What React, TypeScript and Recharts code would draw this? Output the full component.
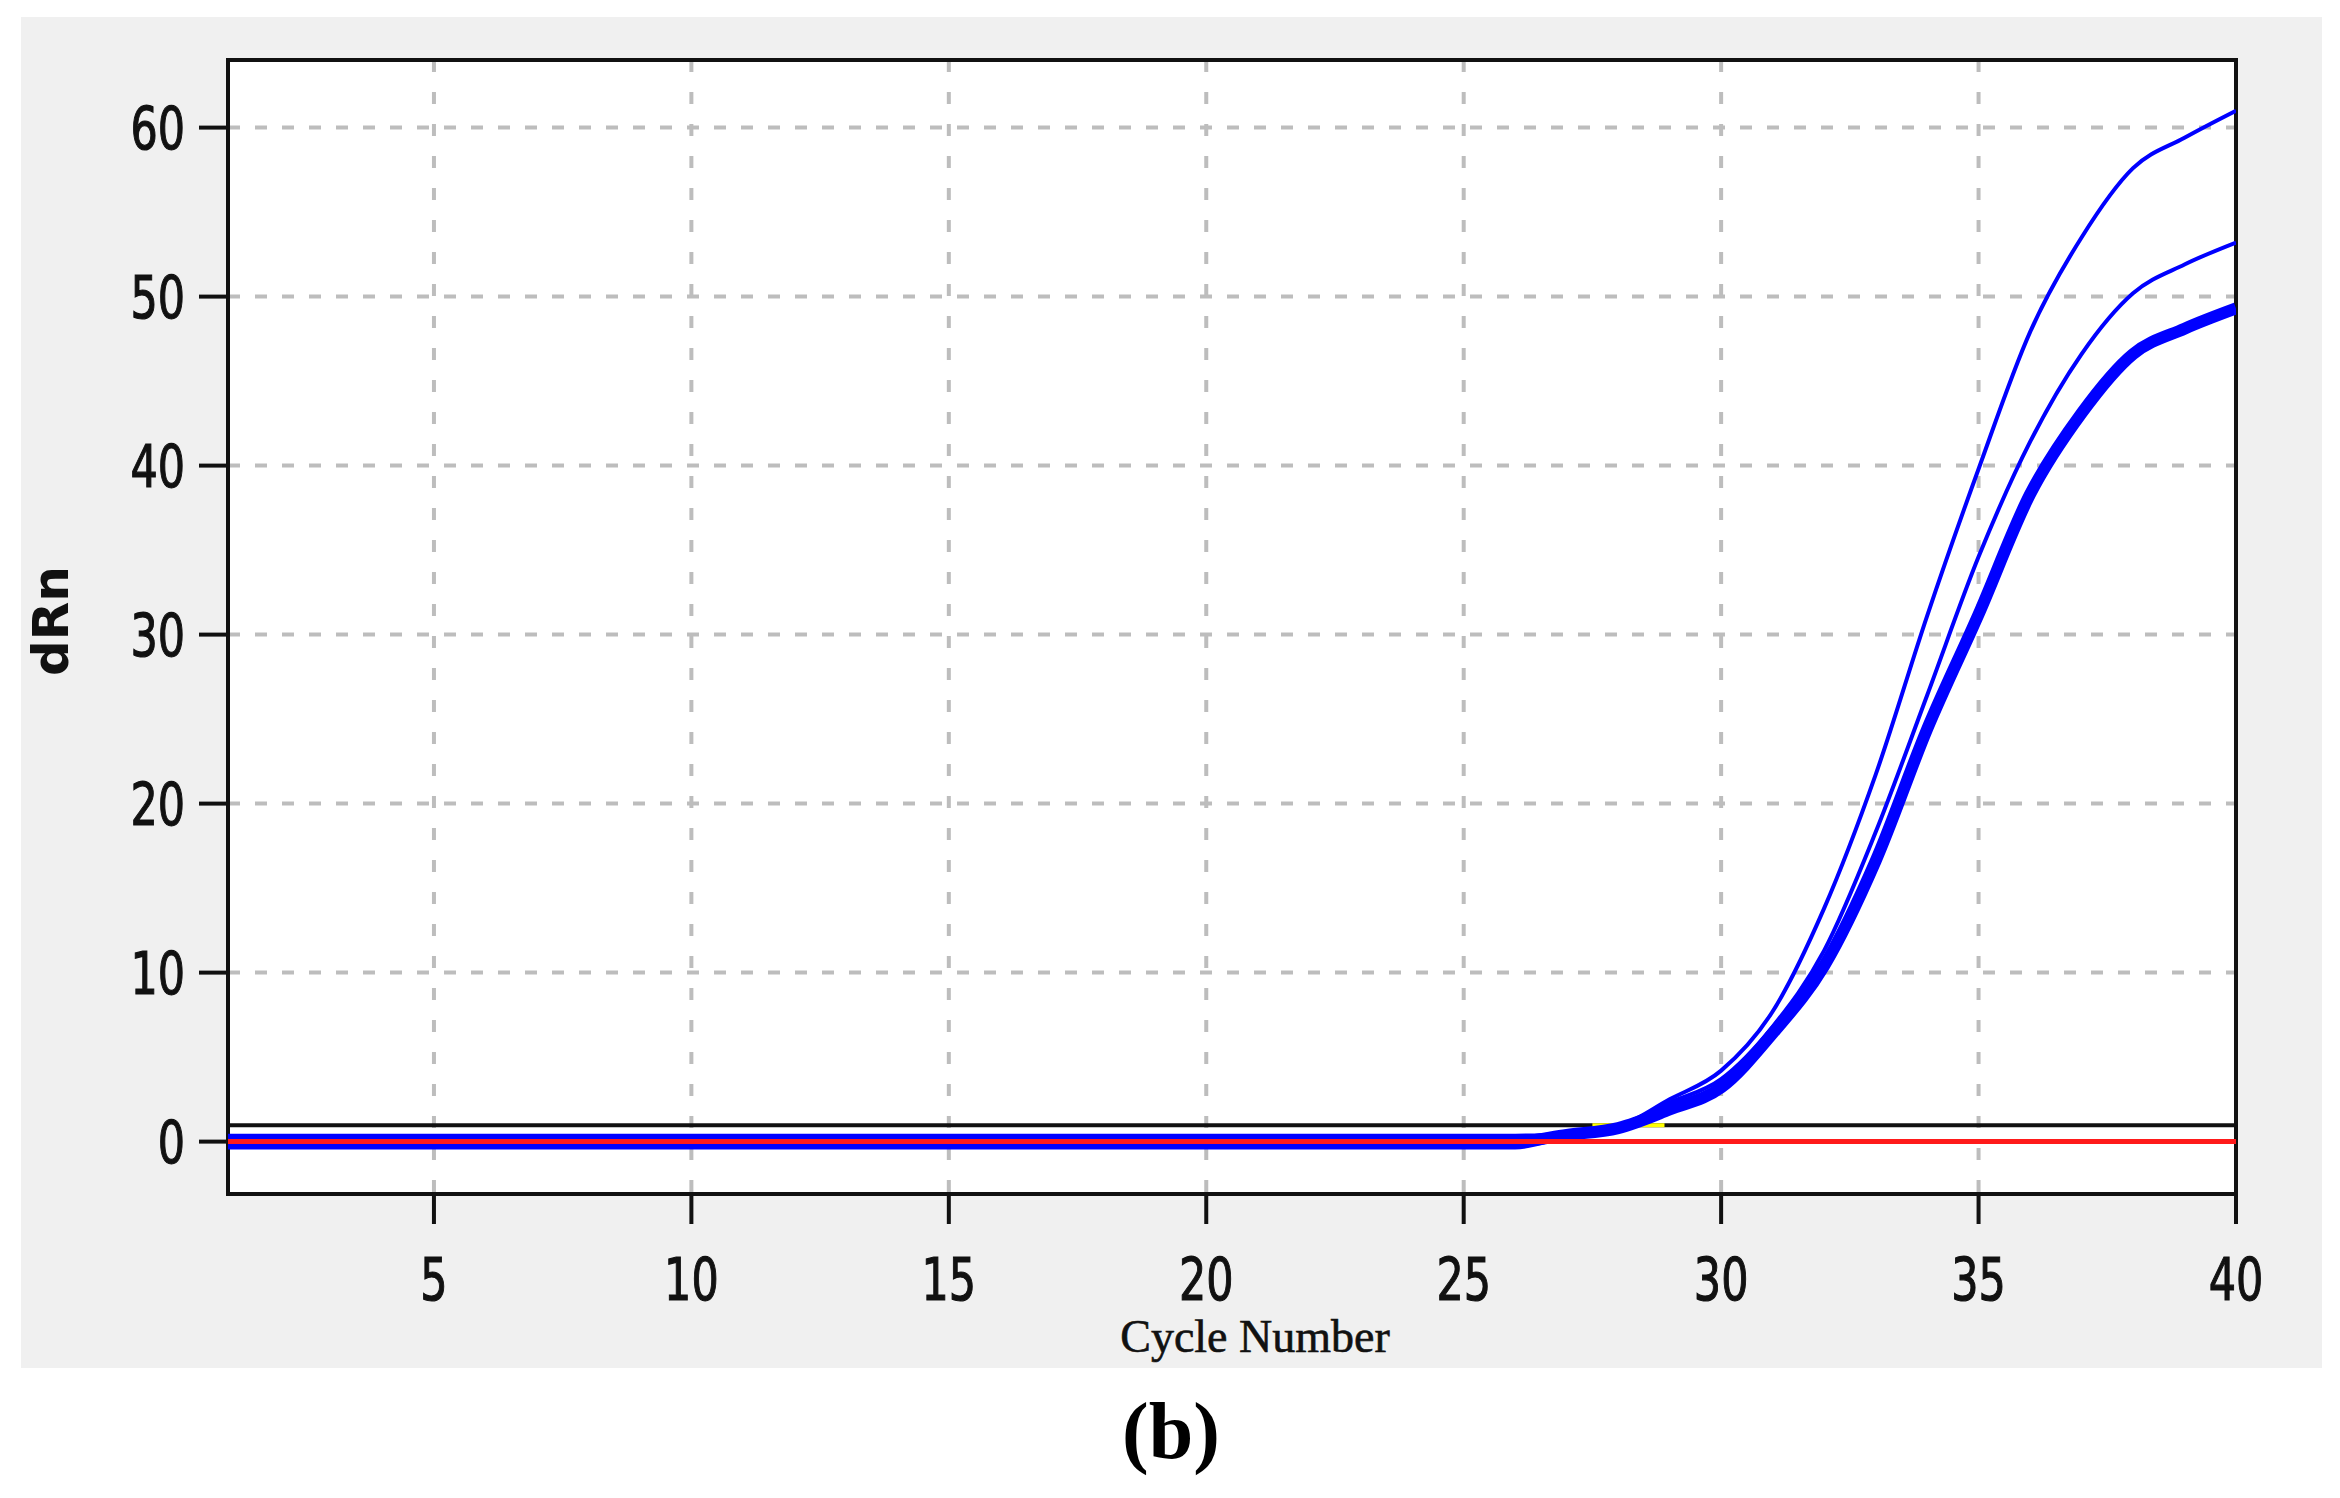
import React from "react";
import {
  LineChart,
  Line,
  XAxis,
  YAxis,
  CartesianGrid,
  ReferenceArea,
} from "recharts";

// cycle numbers and dRn readings for the three wells
const cycles = [
  1, 2, 3, 4, 5, 6, 7, 8, 9, 10, 11, 12, 13, 14, 15, 16, 17, 18, 19, 20,
  21, 22, 23, 24, 25, 26, 27, 28, 29, 30, 31, 32, 33, 34, 35, 36, 37, 38, 39, 40,
];
const wellA = [
  0.35, 0.35, 0.35, 0.35, 0.35, 0.35, 0.35, 0.35, 0.35, 0.35, 0.35, 0.35, 0.35,
  0.35, 0.35, 0.35, 0.35, 0.35, 0.35, 0.35, 0.35, 0.35, 0.35, 0.35, 0.35, 0.35,
  0.5, 0.9, 2.5, 4.2, 7.7, 13.8, 21.7, 31.1, 39.8, 47.9, 53.5, 57.6, 59.4, 61.0,
];
const wellB = [
  -0.35, -0.35, -0.35, -0.35, -0.35, -0.35, -0.35, -0.35, -0.35, -0.35, -0.35,
  -0.35, -0.35, -0.35, -0.35, -0.35, -0.35, -0.35, -0.35, -0.35, -0.35, -0.35,
  -0.35, -0.35, -0.35, -0.35, 0.3, 0.9, 2.3, 3.7, 6.8, 11.3, 18.3, 26.4, 34.6,
  41.4, 46.6, 50.2, 51.9, 53.2,
];
const wellC = [
  0, 0, 0, 0, 0, 0, 0, 0, 0, 0, 0, 0, 0, 0, 0, 0, 0, 0, 0, 0, 0, 0, 0, 0, 0, 0,
  0.4, 0.8, 1.9, 3.2, 6.4, 10.4, 16.6, 24.4, 31.2, 38.3, 43.1, 46.6, 48.1, 49.3,
];

const xTicks = [5, 10, 15, 20, 25, 30, 35, 40];
const yTicks = [0, 10, 20, 30, 40, 50, 60];

const lineEnds = [1, 40];
const thresholdLevel = 0.97;
const baselineLevel = 0;
const crossingCycles = [27.5, 28.9];

const toPoints = (xs: number[], ys: number[]) =>
  xs.map((c, i) => ({ cycle: c, dRn: ys[i] }));

const wellAData = toPoints(cycles, wellA);
const wellBData = toPoints(cycles, wellB);
const wellCData = toPoints(cycles, wellC);
const thresholdData = toPoints(lineEnds, lineEnds.map(() => thresholdLevel));
const baselineData = toPoints(lineEnds, lineEnds.map(() => baselineLevel));
const crossingData = toPoints(
  crossingCycles,
  crossingCycles.map(() => thresholdLevel)
);

const tickFont = "'DejaVu Sans', Verdana, sans-serif";

function YTick({ x, y, payload }: any) {
  return (
    <text
      transform={`translate(${x},${y + 21}) scale(0.74,1)`}
      textAnchor="end"
      fontFamily={tickFont}
      fontSize={58}
      fill="#111"
      stroke="#111"
      strokeWidth={1.2}
    >
      {payload.value}
    </text>
  );
}

function XTick({ x, y, payload }: any) {
  return (
    <text
      transform={`translate(${x},${y + 76}) scale(0.74,1)`}
      textAnchor="middle"
      fontFamily={tickFont}
      fontSize={58}
      fill="#111"
      stroke="#111"
      strokeWidth={1.2}
    >
      {payload.value}
    </text>
  );
}

export default function App() {
  return (
    <div
      style={{
        position: "absolute",
        left: 0,
        top: 0,
        width: 2340,
        height: 1498,
        background: "#fff",
      }}
    >
      <div
        style={{
          position: "absolute",
          left: 21,
          top: 17,
          width: 2301,
          height: 1351,
          background: "#f0f0f0",
        }}
      />
      <div style={{ position: "absolute", left: 0, top: 0 }}>
        <LineChart
          width={2340}
          height={1498}
          margin={{ top: 60, right: 104, left: 28, bottom: 194 }}
        >
          <CartesianGrid
            vertical={false}
            fill="#fff"
            stroke="#bdbdbd"
            strokeWidth={4}
            strokeDasharray="12 15"
          />
          <CartesianGrid
            horizontal={false}
            stroke="#bdbdbd"
            strokeWidth={4}
            strokeDasharray="12 20"
          />
          <XAxis
            type="number"
            dataKey="cycle"
            domain={[1, 40]}
            ticks={xTicks}
            allowDataOverflow
            height={110}
            tickSize={30}
            tickMargin={0}
            axisLine={false}
            tickLine={{ stroke: "#111", strokeWidth: 4 }}
            tick={<XTick />}
          />
          <YAxis
            type="number"
            domain={[-3.1, 64]}
            ticks={yTicks}
            allowDataOverflow
            width={200}
            tickSize={29}
            tickMargin={14}
            axisLine={false}
            tickLine={{ stroke: "#111", strokeWidth: 4 }}
            tick={<YTick />}
          />
          <Line
            data={thresholdData}
            dataKey="dRn"
            type="linear"
            stroke="#111"
            strokeWidth={4}
            dot={false}
            isAnimationActive={false}
          />
          <Line
            data={crossingData}
            dataKey="dRn"
            type="linear"
            stroke="#ffff00"
            strokeWidth={4}
            dot={false}
            isAnimationActive={false}
          />
          <Line
            data={wellAData}
            dataKey="dRn"
            type="monotone"
            stroke="#0000ff"
            strokeWidth={4}
            dot={false}
            isAnimationActive={false}
          />
          <Line
            data={wellBData}
            dataKey="dRn"
            type="monotone"
            stroke="#0000ff"
            strokeWidth={4}
            dot={false}
            isAnimationActive={false}
          />
          <Line
            data={wellCData}
            dataKey="dRn"
            type="monotone"
            stroke="#0000ff"
            strokeWidth={12}
            strokeLinejoin="round"
            dot={false}
            isAnimationActive={false}
          />
          <Line
            data={baselineData}
            dataKey="dRn"
            type="linear"
            stroke="#ff1a1a"
            strokeWidth={5}
            dot={false}
            isAnimationActive={false}
          />
          <ReferenceArea
            x1={1}
            x2={40}
            y1={-3.1}
            y2={64}
            fill="none"
            fillOpacity={0}
            stroke="#111"
            strokeWidth={4}
            ifOverflow="visible"
          />
        </LineChart>
      </div>
      <div
        style={{
          position: "absolute",
          left: 51 - 100,
          top: 621 - 30,
          width: 200,
          height: 60,
          lineHeight: "60px",
          textAlign: "center",
          transform: "rotate(-90deg)",
          fontFamily: "'DejaVu Sans', sans-serif",
          fontWeight: "bold",
          fontSize: 50,
          color: "#111",
        }}
      >
        dRn
      </div>
      <div
        style={{
          position: "absolute",
          left: 1255 - 300,
          top: 1314,
          width: 600,
          lineHeight: 1,
          textAlign: "center",
          fontFamily: "'Liberation Serif', serif",
          fontSize: 46,
          color: "#111",
          WebkitTextStroke: "0.6px #111",
        }}
      >
        Cycle Number
      </div>
      <div
        style={{
          position: "absolute",
          left: 1171 - 200,
          top: 1391,
          width: 400,
          lineHeight: 1,
          textAlign: "center",
          fontFamily: "'Liberation Serif', serif",
          fontWeight: "bold",
          fontSize: 80,
          color: "#000",
        }}
      >
        (b)
      </div>
    </div>
  );
}
